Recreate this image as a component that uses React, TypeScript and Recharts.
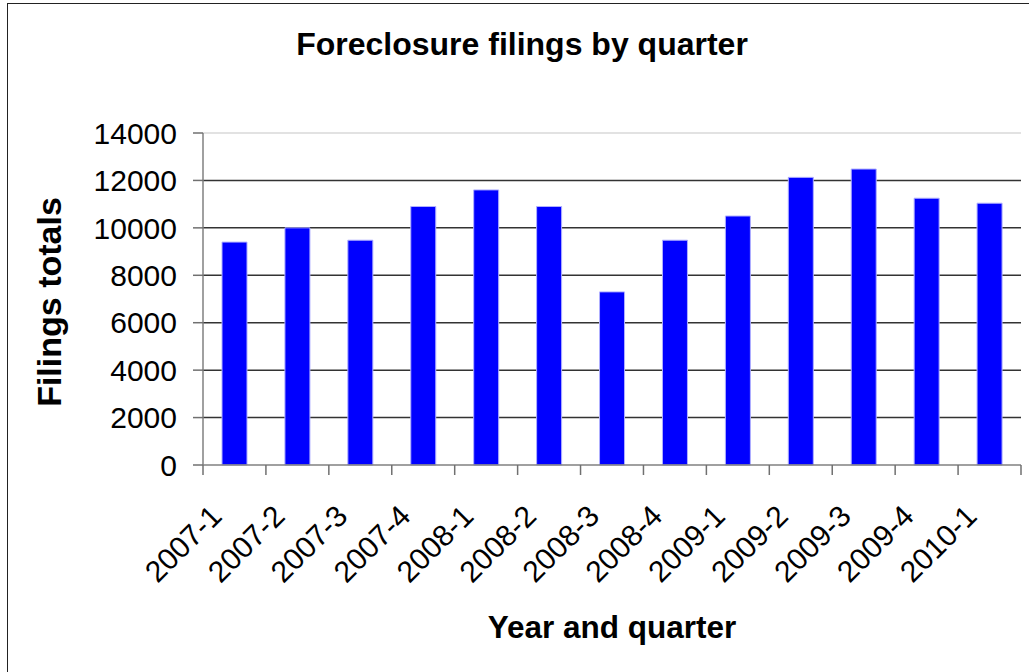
import React from 'react';
import { BarChart, Bar, XAxis, YAxis, CartesianGrid, ReferenceLine } from 'recharts';

const categories = ['2007-1', '2007-2', '2007-3', '2007-4', '2008-1', '2008-2', '2008-3', '2008-4', '2009-1', '2009-2', '2009-3', '2009-4', '2010-1'];
const filings = [9400, 10000, 9480, 10900, 11600, 10900, 7300, 9480, 10500, 12130, 12480, 11250, 11040];
const yTicks = [0, 2000, 4000, 6000, 8000, 10000, 12000, 14000];
const gridValues = [2000, 4000, 6000, 8000, 10000, 12000];
const yMax = 14000;

const chartTitle = 'Foreclosure filings by quarter';
const xTitle = 'Year and quarter';
const yTitle = 'Filings totals';

const data = categories.map((c, i) => ({ quarter: c, filings: filings[i] }));

const FONT = '"Liberation Sans", Arial, Helvetica, sans-serif';

const XTick = (props: any) => {
  const { x, y, payload, index, visibleTicksCount } = props;
  const off = payload && payload.offset ? payload.offset : 31.5;
  const isLast = index === (visibleTicksCount ? visibleTicksCount - 1 : categories.length - 1);
  const tx = x - 26;
  const ty = y + 38;
  return (
    <g>
      <line x1={x - off} y1={y} x2={x - off} y2={y + 10} stroke="#707070" strokeWidth={1.5} />
      {isLast && <line x1={x + off} y1={y} x2={x + off} y2={y + 10} stroke="#707070" strokeWidth={1.5} />}
      <text
        x={tx}
        y={ty}
        dy="0.71em"
        textAnchor="end"
        transform={`rotate(-45, ${tx}, ${ty})`}
        fontSize={30}
        fontFamily={FONT}
        fill="#000"
      >
        {payload.value}
      </text>
    </g>
  );
};

export default function App() {
  return (
    <div style={{ position: 'absolute', left: 0, top: 0, width: 1029, height: 672, overflow: 'hidden', background: '#fff' }}>
      <div
        style={{
          position: 'absolute',
          left: 7,
          top: 3,
          width: 1100,
          height: 800,
          border: '1.5px solid #222',
          boxSizing: 'border-box',
        }}
      />
      <div style={{ position: 'absolute', left: 0, top: 0 }}>
        <BarChart
          width={1029}
          height={672}
          data={data}
          margin={{ top: 133, right: 8, bottom: 107, left: 103 }}
        >
          <CartesianGrid vertical={false} horizontalValues={gridValues} stroke="#333" strokeWidth={1.5} />
          <ReferenceLine y={yMax} stroke="#d9d9d9" strokeWidth={1.5} />
          <XAxis
            dataKey="quarter"
            height={100}
            interval={0}
            tickLine={false}
            tickSize={0}
            tickMargin={0}
            tick={<XTick />}
            axisLine={{ stroke: '#808080', strokeWidth: 1.5 }}
          />
          <YAxis
            width={100}
            domain={[0, yMax]}
            ticks={yTicks}
            interval={0}
            tickSize={10}
            tickMargin={16}
            tick={{ fontSize: 30, fill: '#000', fontFamily: FONT }}
            axisLine={{ stroke: '#808080', strokeWidth: 1.5 }}
            tickLine={{ stroke: '#707070', strokeWidth: 1.5 }}
          />
          <Bar dataKey="filings" fill="#0000ff" stroke="#b0b0ff" strokeWidth={1} barSize={25} isAnimationActive={false} />
        </BarChart>
      </div>
      <svg width={1029} height={672} style={{ position: 'absolute', left: 0, top: 0, pointerEvents: 'none' }}>
        <text x={522} y={55} textAnchor="middle" fontSize={32} fontWeight="bold" fontFamily={FONT} fill="#000">
          {chartTitle}
        </text>
        <text x={612} y={638} textAnchor="middle" fontSize={31.5} fontWeight="bold" fontFamily={FONT} fill="#000">
          {xTitle}
        </text>
        <text
          transform="translate(61,302) rotate(-90)"
          textAnchor="middle"
          fontSize={34}
          fontWeight="bold"
          fontFamily={FONT}
          fill="#000"
        >
          {yTitle}
        </text>
      </svg>
    </div>
  );
}
